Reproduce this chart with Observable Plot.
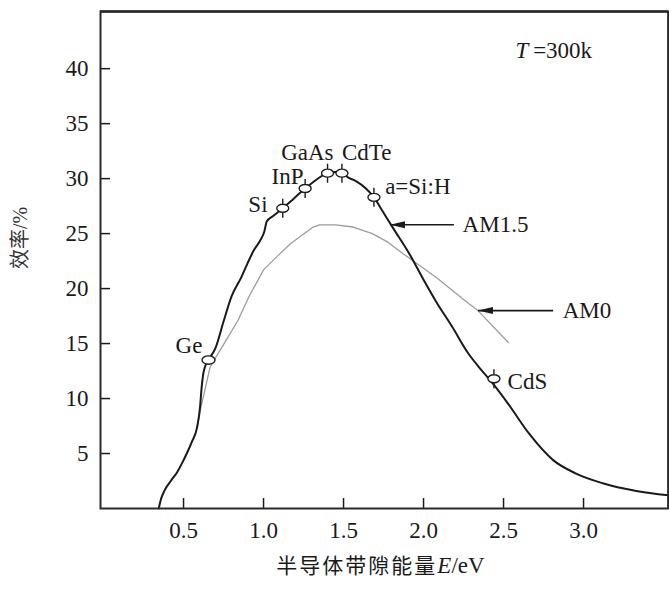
<!DOCTYPE html>
<html><head><meta charset="utf-8">
<script src="https://cdn.jsdelivr.net/npm/d3@7"></script>
<script src="https://cdn.jsdelivr.net/npm/@observablehq/plot@0.6"></script>
<style>html,body{margin:0;padding:0;background:#fff;overflow:hidden}#chart svg{display:block}</style>
</head><body><div id="chart"></div>
<script>
// AM1.5 efficiency curve (black)
const am15E   = [0.345,0.36,0.38,0.42,0.46,0.49,0.52,0.55,0.585,0.603,0.613,0.628,0.656,0.70,0.75,0.80,0.86,0.90,0.94,0.98,1.005,1.02,1.06,1.12,1.19,1.26,1.33,1.40,1.45,1.49,1.53,1.575,1.64,1.69,1.75,1.81,1.91,2.0,2.075,2.18,2.28,2.35,2.42,2.53,2.66,2.81,2.95,3.12,3.33,3.53];
const am15Eff = [0,0.9,1.6,2.5,3.3,4.1,5.0,6.0,7.4,9.2,11.0,12.6,13.5,14.6,17.0,19.3,21.0,22.3,23.5,24.4,25.2,26.1,26.6,27.3,28.2,29.1,29.9,30.5,30.6,30.5,30.1,29.8,29.1,28.3,26.9,25.5,23.2,20.8,18.9,16.5,14.1,12.8,11.6,9.5,6.8,4.4,3.2,2.3,1.6,1.2];
// AM0 efficiency curve (grey)
const am0E   = [0.585,0.61,0.64,0.665,0.70,0.77,0.84,0.91,1.0,1.09,1.17,1.31,1.35,1.45,1.56,1.68,1.78,1.87,2.08,2.26,2.34,2.53];
const am0Eff = [7.4,9.3,11.2,12.8,13.7,15.4,17.1,19.3,21.7,23.0,24.1,25.6,25.8,25.8,25.6,25.0,24.2,23.2,21.0,18.9,18.0,15.1];
// materials on the curve
const materials = ["Ge","Si","InP","GaAs","CdTe","a=Si:H","CdS"];
const matE      = [0.656,1.12,1.26,1.40,1.49,1.69,2.44];
const matEff    = [13.5,27.3,29.1,30.5,30.5,28.3,11.8];
const labelE    = [0.45,1.025,1.05,1.11,1.49,1.76,2.525];
const labelEff  = [14.8,27.6,30.2,32.4,32.4,29.3,11.5];
// spectrum arrows
const spectra   = ["AM1.5","AM0"];
const arrowTail = [2.19,2.81];
const arrowTip  = [1.79,2.34];
const arrowEff  = [25.8,18.0];
const spectraTextE = [2.244,2.87];
// axes
const xTicks = [0.5,1.0,1.5,2.0,2.5,3.0];
const yTicks = [5,10,15,20,25,30,35,40];
const xDomain = [-0.019,3.531];
const yDomain = [0,45.2];

const am15 = am15E.map((e,i)=>({E:e,eff:am15Eff[i]}));
const am0 = am0E.map((e,i)=>({E:e,eff:am0Eff[i]}));
const mats = materials.map((m,i)=>({name:m,E:matE[i],eff:matEff[i],lx:labelE[i],ly:labelEff[i]}));
const arrows = spectra.map((s,i)=>({name:s,x1:arrowTail[i],x2:arrowTip[i],y:arrowEff[i],tx:spectraTextE[i]}));

const k = 0.5523;
function ellipsePath(ctx, rx, ry){
  ctx.moveTo(rx,0);
  ctx.bezierCurveTo(rx,ry*k,rx*k,ry,0,ry);
  ctx.bezierCurveTo(-rx*k,ry,-rx,ry*k,-rx,0);
  ctx.bezierCurveTo(-rx,-ry*k,-rx*k,-ry,0,-ry);
  ctx.bezierCurveTo(rx*k,-ry,rx,-ry*k,rx,0);
  ctx.closePath();
}
const markTicked = {draw(ctx){ ellipsePath(ctx,6,4); ctx.moveTo(0,-4); ctx.lineTo(0,-9.5); ctx.moveTo(0,4); ctx.lineTo(0,9.5);} };
const markPlain = {draw(ctx){ ellipsePath(ctx,6.5,4.2);} };
const arrowHead = {draw(ctx){ ctx.moveTo(0,0); ctx.lineTo(15,-3.5); ctx.lineTo(15,3.5); ctx.closePath(); } };

const serif = "Liberation Serif, 'Noto Sans CJK SC', serif";
const ink = "#1a1a1a";

const chart = Plot.plot({
  width: 669, height: 590,
  marginLeft: 100, marginRight: 1, marginTop: 11, marginBottom: 82,
  style: {fontFamily: serif, fontSize: "23px", color: ink, background: "#fff", overflow: "visible"},
  x: {domain: xDomain},
  y: {domain: yDomain},
  marks: [
    Plot.line(am0, {x:"E", y:"eff", stroke:"#9c9c9c", strokeWidth:1.3}),
    Plot.line(am15, {x:"E", y:"eff", stroke:ink, strokeWidth:2, curve:"monotone-x"}),
    Plot.dot(mats.filter(d=>d.name!=="Ge"), {x:"E", y:"eff", symbol: markTicked, r:5, fill:"#fff", stroke:ink, strokeWidth:1.4}),
    Plot.dot(mats.filter(d=>d.name==="Ge"), {x:"E", y:"eff", symbol: markPlain, r:5, fill:"#fff", stroke:ink, strokeWidth:1.4}),
    Plot.text(mats.filter(d=>d.name!=="Si"), {x:"lx", y:"ly", text:"name", textAnchor:"start", fontSize:23, fill:ink}),
    Plot.text(mats.filter(d=>d.name==="Si"), {x:"lx", y:"ly", text:"name", textAnchor:"end", fontSize:23, fill:ink}),
    Plot.link(arrows, {x1:"x1", x2:"x2", y1:"y", y2:"y", stroke:ink, strokeWidth:1.6}),
    Plot.dot(arrows, {x:"x2", y:"y", symbol: arrowHead, r:5, fill:ink, stroke:"none"}),
    Plot.text(arrows, {x:"tx", y:"y", text:"name", textAnchor:"start", fontSize:23, fill:ink}),
    Plot.text(["T"], {x: 2.575, y: 41.6, textAnchor:"start", fontSize:23, fontStyle:"italic", fill:ink}),
    Plot.text(["=300k"], {x: 2.685, y: 41.6, textAnchor:"start", fontSize:23, fill:ink}),
    Plot.ruleY(yTicks, {y: d=>d, x1: xDomain[0], x2: xDomain[0]+0.0625, stroke:ink, strokeWidth:1.5}),
    Plot.ruleX(xTicks, {x: d=>d, y1: 0, y2: 0.9, stroke:ink, strokeWidth:1.5}),
    Plot.axisY(yTicks, {tickSize:0, tickPadding:12, fontSize:23, fill:ink, label:null}),
    Plot.axisX(xTicks, {tickSize:0, tickPadding:13, fontSize:23, fill:ink, label:null, tickFormat: d3.format(".1f")}),
    Plot.frame({stroke:"#2a2a2a", strokeWidth:2}),
    Plot.ruleY([yDomain[1]], {y: d=>d, stroke:"#2a2a2a", strokeWidth:2.6}),
    Plot.ruleX([xDomain[1]], {x: d=>d, stroke:"#2a2a2a", strokeWidth:2.6}),
    Plot.text(["XLABEL"], {frameAnchor:"bottom", dx:-4, dy:64, fontSize:23, fill:ink}),
    Plot.text(["效率/%"], {frameAnchor:"left", dx:-80, dy:9, rotate:-90, fontSize:20, fill:"#333"})
  ]
});
document.getElementById("chart").appendChild(chart);
d3.select(chart).selectAll("text").filter(function(){return this.textContent==="XLABEL";})
  .html('<tspan font-family="Noto Sans CJK SC" font-size="21" letter-spacing="2">半导体带隙能量</tspan><tspan font-style="italic">E</tspan>/eV');
</script>
</body></html>
